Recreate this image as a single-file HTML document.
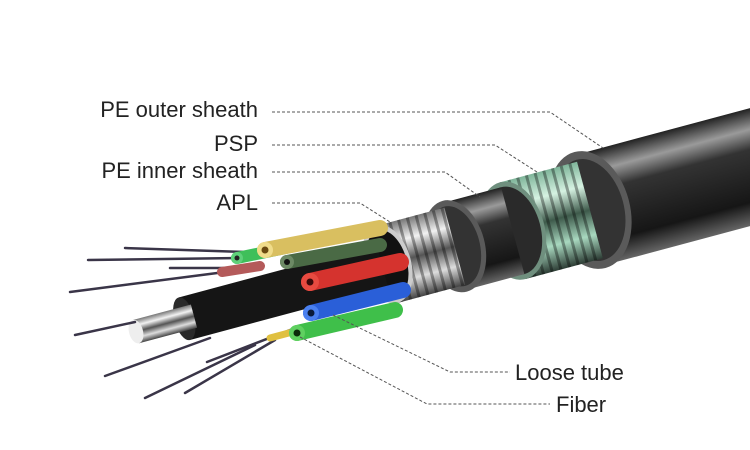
<!DOCTYPE html>
<html><head><style>
html,body{margin:0;padding:0;background:#fff;}
svg{display:block;}
text{font-family:"Liberation Sans",Arial,sans-serif;font-size:22px;fill:#222;}
</style></head><body>
<svg width="750" height="450" viewBox="0 0 750 450" xmlns="http://www.w3.org/2000/svg">
<defs>
<linearGradient id="blk" x1="0" y1="0" x2="0" y2="1">
<stop offset="0" stop-color="#222"/><stop offset="0.18" stop-color="#9a9a9a"/><stop offset="0.35" stop-color="#333"/><stop offset="0.8" stop-color="#161616"/><stop offset="1" stop-color="#666"/>
</linearGradient>
<linearGradient id="grn" x1="0" y1="0" x2="0" y2="1">
<stop offset="0" stop-color="#7fb59a"/><stop offset="0.25" stop-color="#d6f2e2"/><stop offset="0.5" stop-color="#3e5a4b"/><stop offset="0.75" stop-color="#a8d8bf"/><stop offset="1" stop-color="#2d3d35"/>
</linearGradient>
<linearGradient id="slv" x1="0" y1="0" x2="0" y2="1">
<stop offset="0" stop-color="#777"/><stop offset="0.25" stop-color="#f2f2f2"/><stop offset="0.5" stop-color="#555"/><stop offset="0.75" stop-color="#ddd"/><stop offset="1" stop-color="#444"/>
</linearGradient>
<pattern id="rib" width="9" height="10" patternUnits="userSpaceOnUse">
<rect x="0" width="3" height="10" fill="#000" opacity="0.35"/>
</pattern>
</defs>

<g transform="translate(590,210) rotate(-15)">
  <!-- outer sheath -->
  <rect x="0" y="-57" width="260" height="114" fill="url(#blk)"/>
  <ellipse cx="0" cy="0" rx="40" ry="60" fill="#5a5a5a"/>
  <ellipse cx="0" cy="0" rx="34" ry="52" fill="#333"/>
  <!-- PSP -->
  <rect x="-80" y="-50" width="80" height="100" fill="url(#grn)"/>
  <rect x="-80" y="-50" width="80" height="100" fill="url(#rib)"/>
  <ellipse cx="-80" cy="0" rx="32" ry="50" fill="#6f8f7e"/>
  <ellipse cx="-80" cy="0" rx="28" ry="45" fill="#2a2a2a"/>
  <!-- inner sheath -->
  <rect x="-140" y="-45" width="60" height="90" fill="url(#blk)"/>
  <ellipse cx="-140" cy="0" rx="30" ry="47" fill="#5a5a5a"/>
  <ellipse cx="-140" cy="0" rx="25" ry="41" fill="#333"/>
  <!-- APL -->
  <rect x="-210" y="-40" width="70" height="80" fill="url(#slv)"/>
  <rect x="-210" y="-40" width="70" height="80" fill="url(#rib)"/>
  <ellipse cx="-210" cy="0" rx="24" ry="40" fill="#ccc"/>
  <ellipse cx="-210" cy="0" rx="20" ry="35" fill="#111"/>
  <!-- core black tube -->
  <rect x="-420" y="-22" width="205" height="44" fill="#151515"/>
  <ellipse cx="-420" cy="0" rx="10" ry="22" fill="#2a2a2a"/>
  <!-- steel rod -->
  <rect x="-470" y="-12" width="60" height="24" fill="url(#slv)"/>
  <ellipse cx="-470" cy="0" rx="7" ry="12" fill="#eee"/>
</g>

<g stroke="#3a3548" stroke-width="2.5" stroke-linecap="round" fill="none">
<line x1="125" y1="248" x2="245" y2="252"/>
<line x1="88" y1="260" x2="240" y2="258"/>
<line x1="170" y1="268" x2="230" y2="268"/>
<line x1="70" y1="292" x2="225" y2="272"/>
<line x1="75" y1="335" x2="135" y2="322"/>
<line x1="105" y1="376" x2="210" y2="338"/>
<line x1="145" y1="398" x2="255" y2="345"/>
<line x1="185" y1="393" x2="275" y2="340"/>
<line x1="207" y1="362" x2="290" y2="330"/>
</g>

<g stroke-linecap="round">
<line x1="237" y1="258" x2="300" y2="245" stroke="#3fbf5a" stroke-width="12"/>
<line x1="265" y1="250" x2="380" y2="228" stroke="#d9bf60" stroke-width="16"/>
<line x1="287" y1="262" x2="380" y2="245" stroke="#4a6a45" stroke-width="14"/>
<line x1="222" y1="272" x2="260" y2="266" stroke="#b45a5a" stroke-width="10"/>
<line x1="310" y1="282" x2="400" y2="262" stroke="#d5332e" stroke-width="18"/>
<line x1="311" y1="313" x2="403" y2="290" stroke="#2a5fd8" stroke-width="16"/>
<line x1="297" y1="333" x2="395" y2="310" stroke="#3fbf4a" stroke-width="16"/>
<line x1="270" y1="338" x2="300" y2="330" stroke="#e0c040" stroke-width="7"/>
</g>
<g>
<circle cx="237" cy="258" r="6" fill="#5fd07a"/><circle cx="237" cy="258" r="2.5" fill="#222"/>
<circle cx="265" cy="250" r="8" fill="#f0dc8a"/><circle cx="265" cy="250" r="3.5" fill="#6a4a10"/>
<circle cx="287" cy="262" r="7" fill="#6d8a65"/><circle cx="287" cy="262" r="3" fill="#111"/>
<circle cx="310" cy="282" r="9" fill="#e84a40"/><circle cx="310" cy="282" r="3.5" fill="#3a0a0a"/>
<circle cx="311" cy="313" r="8" fill="#4a80f0"/><circle cx="311" cy="313" r="3.5" fill="#0a1a3a"/>
<circle cx="297" cy="333" r="8" fill="#5fd060"/><circle cx="297" cy="333" r="3.5" fill="#0a2a0a"/>
</g>

<text x="258" y="117" text-anchor="end">PE outer sheath</text>
<text x="258" y="151" text-anchor="end">PSP</text>
<text x="258" y="178" text-anchor="end">PE inner sheath</text>
<text x="258" y="210" text-anchor="end">APL</text>
<text x="515" y="380">Loose tube</text>
<text x="556" y="412">Fiber</text>

<g stroke="#555" stroke-width="1" stroke-dasharray="3,2" fill="none">
<polyline points="272,112 550,112 603,148"/>
<polyline points="272,145 495,145 537,172"/>
<polyline points="272,172 445,172 480,197"/>
<polyline points="272,203 360,203 390,222"/>
<polyline points="333,315 450,372 510,372"/>
<polyline points="300,337 427,404 550,404"/>
</g>
</svg>
</body></html>
